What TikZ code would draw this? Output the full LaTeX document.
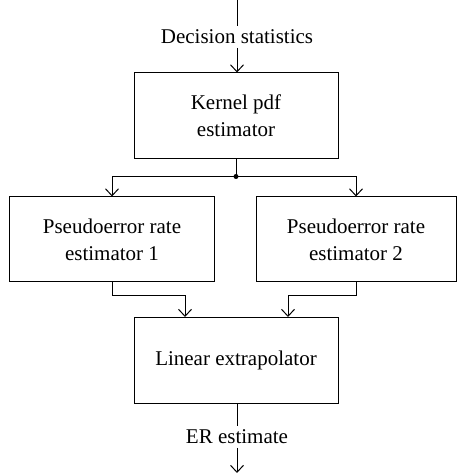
\documentclass[tikz,border=0pt]{standalone}
\usepackage{fontspec}
\setmainfont{Liberation Serif}
\usetikzlibrary{arrows.meta, positioning, calc}

\begin{document}
\begin{tikzpicture}[x=1pt, y=1pt, node distance=8pt, line width=1pt,
    every node/.style={align=center, font=\fontsize{21}{27}\selectfont}]
  \tikzset{block/.style={draw, minimum width=204pt, minimum height=86pt, inner sep=2pt},
    sideblock/.style={block, minimum width=205pt, minimum height=85pt},
    arr/.style={-{Straight Barb[length=7pt, width=13pt, line width=1pt]}}}
  \useasboundingbox (0,0) rectangle (457,473);
  % input and kernel estimate
  \coordinate (in) at (237,473);
  \node (dec) at (237,436) {Decision statistics};
  \node[block] (kernel) at (236,357) {Kernel pdf\\estimator};
  \coordinate[below=17pt of kernel] (split);
  % pseudoerror rate estimators
  \node[sideblock] (pe1) at (112,233.5) {Pseudoerror rate\\estimator 1};
  \node[sideblock, minimum width=200pt] (pe2) at (356,233.5) {Pseudoerror rate\\estimator 2};
  \node[block] (lin) at (236,112.5) {Linear extrapolator};
  \node (er) at (237,36) {ER estimate};
  \coordinate (out) at (237,0);
  \draw (in) -- (dec);
  \draw[arr] (dec) -- (dec |- kernel.north);
  \draw (kernel.south -| split) -- (split);
  \fill (split) circle (2.5pt);
  \draw[arr] (split) -| (pe1);
  \draw[arr] (split) -| (pe2);
  \draw[arr] (pe1.south) -- ++(0,-13) -| ([xshift=-51pt]lin.north);
  \draw[arr] (pe2.south) -- ++(0,-13) -| ([xshift=52pt]lin.north);
  \draw (lin.south -| er) -- (er);
  \draw[arr] (er) -- (out);
\end{tikzpicture}
\end{document}
